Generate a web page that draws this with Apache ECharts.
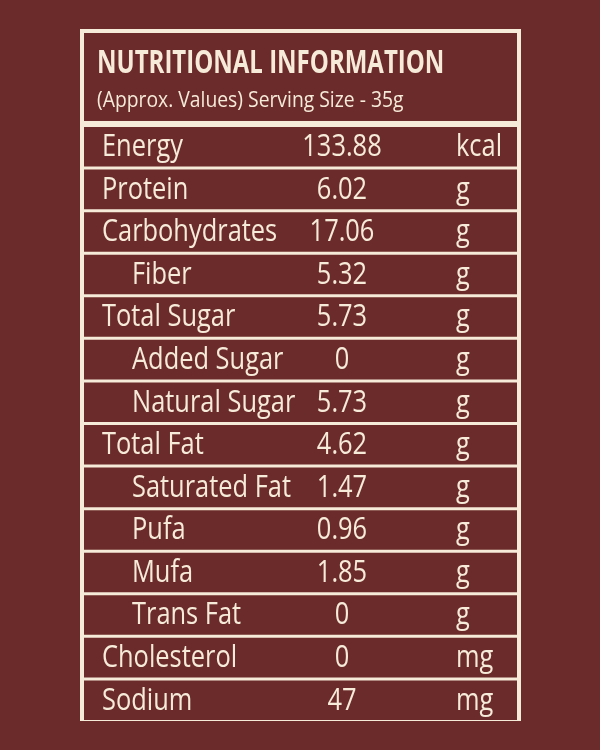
<!DOCTYPE html>
<html><head><meta charset="utf-8">
<script src="https://cdn.jsdelivr.net/npm/echarts@6/dist/echarts.min.js"></script>
<style>html,body{margin:0;padding:0;background:#6b2b2a}#c{width:600px;height:750px}</style>
</head><body><div id="c"></div>
<script>
const nutrients = ['Energy','Protein','Carbohydrates','Fiber','Total Sugar','Added Sugar','Natural Sugar','Total Fat','Saturated Fat','Pufa','Mufa','Trans Fat','Cholesterol','Sodium'];
const amounts = ['133.88','6.02','17.06','5.32','5.73','0','5.73','4.62','1.47','0.96','1.85','0','0','47'];
const units = ['kcal','g','g','g','g','g','g','g','g','g','g','g','mg','mg'];
const indented = [0,0,0,1,0,1,1,0,1,1,1,1,0,0];
const title = 'NUTRITIONAL INFORMATION';
const subtitle = '(Approx. Values) Serving Size - 35g';

const BG = '#6b2b2a', CREAM = '#f6ead8';
const FONT = "'Open Sans','Noto Sans',sans-serif";
const chart = echarts.init(document.getElementById('c'));
const data = nutrients.map((n,i)=>[0,i]);
const SX = 0.82;
chart.setOption({
  backgroundColor: BG,
  animation:false,
  graphic:[
    {type:'rect',shape:{x:80,y:29,width:441,height:692},style:{fill:CREAM},z:0},
    {type:'rect',shape:{x:84,y:33,width:433,height:88},style:{fill:BG},z:1},
    {type:'text',x:97,y:48,scaleX:0.75,style:{text:title,fill:CREAM,font:"bold 32px "+FONT},z:2},
    {type:'text',x:97,y:91,scaleX:0.92,style:{text:subtitle,fill:CREAM,font:"21px "+FONT},z:2}
  ],
  grid:{left:84,right:83,top:124,bottom:30},
  xAxis:{type:'value',min:0,max:1,show:false},
  yAxis:{type:'category',data:nutrients,inverse:true,show:false},
  series:[{
    type:'custom',
    data:data,
    z:5,
    renderItem:function(params,api){
      const i = api.value(1);
      const c = api.coord([0,i]);
      const h = api.size([0,1])[1];
      const top = c[1]-h/2, cs = params.coordSys;
      const f = "31px "+FONT;
      return {type:'group',children:[
        {type:'rect',shape:{x:cs.x,y:top+3,width:cs.width,height:h-3},style:{fill:BG}},
        {type:'text',x:indented[i]?132:102,y:c[1]+2,scaleX:SX,style:{text:nutrients[i],fill:CREAM,font:f,verticalAlign:'middle'}},
        {type:'text',x:342,y:c[1]+2,scaleX:SX,style:{text:amounts[i],fill:CREAM,font:f,verticalAlign:'middle',align:'center'}},
        {type:'text',x:456,y:c[1]+2,scaleX:SX,style:{text:units[i],fill:CREAM,font:f,verticalAlign:'middle'}}
      ]};
    }
  }]
});
</script></body></html>
